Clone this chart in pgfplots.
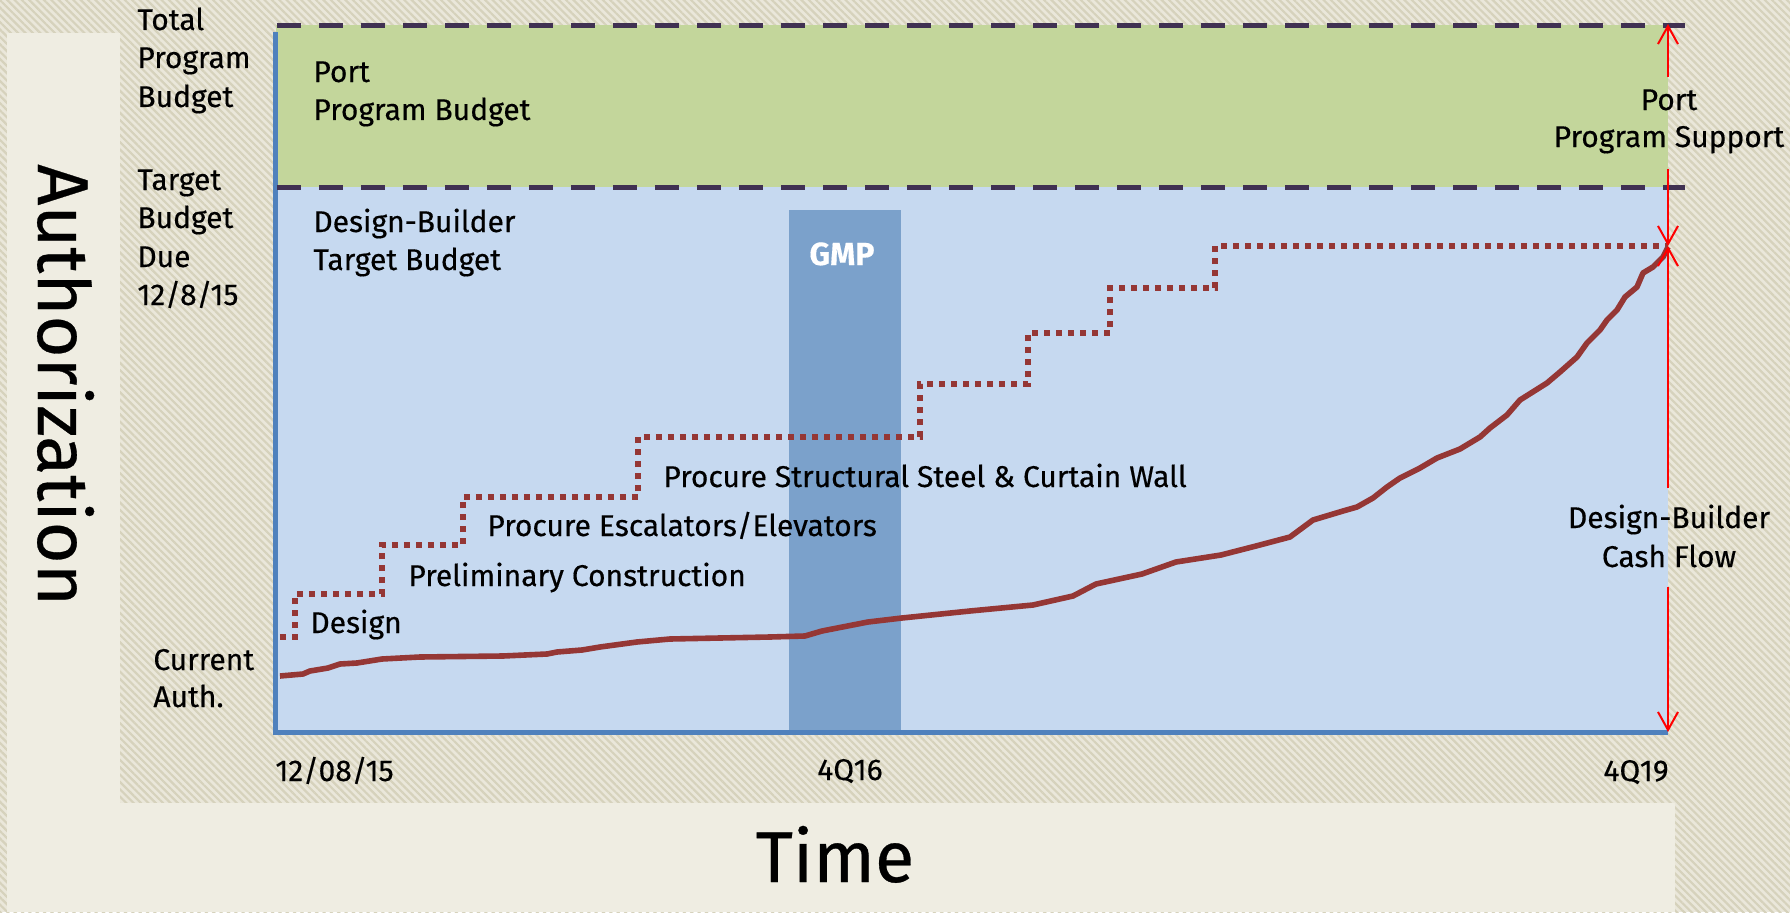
\documentclass[border=0pt]{standalone}
\usepackage{pgfplots}
\pgfplotsset{compat=1.18}
\usepackage{fontspec}
\setmainfont{Fira Sans}[FakeBold=0.4]
\usetikzlibrary{patterns.meta,arrows.meta}
\definecolor{bgbase}{HTML}{EAE7DA}
\definecolor{stripe}{HTML}{D6D2BC}
\definecolor{panel}{HTML}{EFEDE2}
\definecolor{greenfill}{HTML}{C3D69B}
\definecolor{bluefill}{HTML}{C6D9F0}
\definecolor{gmp}{HTML}{7BA1CB}
\definecolor{axisblue}{HTML}{4F81BD}
\definecolor{dashc}{HTML}{403152}
\definecolor{curvec}{HTML}{953735}
\begin{document}
\begin{tikzpicture}
\begin{axis}[
  scale only axis, width=696pt, height=354pt,
  xmin=0, xmax=1392, ymin=0, ymax=708,
  hide axis, clip=false]
% background texture and panels
\fill[bgbase] (axis cs:-276,-179) rectangle (axis cs:1514,733);
\fill[pattern={Lines[angle=-45,distance=2.6pt,line width=1.1pt]}, pattern color=stripe] (axis cs:-276,-179) rectangle (axis cs:1514,733);
\fill[panel] (axis cs:-269,-179) rectangle (axis cs:-156,700);
\fill[panel] (axis cs:-269,-179) rectangle (axis cs:1399,-70);
% regions
\fill[greenfill] (axis cs:0,546) rectangle (axis cs:1392,708);
\fill[bluefill] (axis cs:0,0) rectangle (axis cs:1392,546);
% GMP bar
\addplot[fill=gmp, draw=none] coordinates {(513,523) (625,523)} \closedcycle;
% axis lines
\addplot[axisblue, line width=2.5pt] coordinates {(0,701) (0,1) (1392,1)};
% dashed budget lines
\addplot[dashc, line width=2.5pt, dash pattern=on 12pt off 9pt] coordinates {(1,708) (1409,708)};
\addplot[dashc, line width=2.5pt, dash pattern=on 12pt off 9pt] coordinates {(1,546) (1409,546)};
% authorization steps
\addplot[curvec, line width=2.8pt, dash pattern=on 3pt off 3pt] coordinates {
(4,96) (19,96) (19,139) (106,139) (106,188) (187,188) (187,236) (362,236)
(362,296) (644,296) (644,349) (752,349) (752,400) (834,400) (834,445)
(939,445) (939,487) (1392,487)};
% cash flow curve
\addplot[curvec, line width=2.8pt, line join=round] coordinates {
(4,57) (27,59) (34,62) (52,65) (64,69) (81,70) (106,74) (144,76) (227,77)
(271,79) (281,81) (306,83) (324,86) (361,91) (394,94) (494,96) (529,97)
(546,102) (592,111) (626,115) (694,122) (757,128) (797,137) (820,149)
(866,159) (900,171) (945,178) (980,187) (1014,196) (1037,213) (1067,222)
(1081,226) (1097,235) (1111,246) (1124,255) (1144,265) (1161,275)
(1184,284) (1204,296) (1214,305) (1231,318) (1244,333) (1271,350)
(1284,361) (1301,376) (1311,390) (1324,403) (1331,413) (1341,423)
(1349,436) (1361,446) (1367,460) (1377,466) (1387,476) (1392,486)};
% red arrows
\addplot[red, line width=1pt, -{Straight Barb[length=9pt,width=10pt]}] coordinates {(1392,656) (1392,709)};
\addplot[red, line width=1pt, -{Straight Barb[length=9pt,width=10pt]}] coordinates {(1392,564) (1392,487)};
\addplot[red, line width=1pt, -{Straight Barb[length=9pt,width=10pt]}] coordinates {(1392,245) (1392,487)};
\addplot[red, line width=1pt, -{Straight Barb[length=9pt,width=10pt]}] coordinates {(1392,146) (1392,1)};
\coordinate (TL) at (axis cs:-276,733);
\end{axis}
\begin{scope}[shift={(TL)}, x=0.5pt, y=-0.5pt, every node/.style={inner sep=0pt}, font=\fontsize{15pt}{18pt}\selectfont]
% left labels
\node[anchor=base west] at (137,30) {Total};
\node[anchor=base west] at (137,68) {Program};
\node[anchor=base west] at (137,107) {Budget};
\node[anchor=base west] at (137,190) {Target};
\node[anchor=base west] at (137,228) {Budget};
\node[anchor=base west] at (137,267) {Due};
\node[anchor=base west] at (137,305) {12/8/15};
\node[anchor=base west] at (153,670) {Current};
\node[anchor=base west] at (153,707) {Auth.};
% inside labels
\node[anchor=base west] at (313,82) {Port};
\node[anchor=base west] at (313,120) {Program Budget};
\node[anchor=base west] at (313,232) {Design-Builder};
\node[anchor=base west] at (313,270) {Target Budget};
\node[anchor=base, text=white, font=\fontsize{16pt}{19pt}\selectfont\bfseries] at (842,265) {GMP};
\node[anchor=base west] at (310,633) {Design};
\node[anchor=base west] at (408,586) {Preliminary Construction};
\node[anchor=base west] at (487,536) {Procure Escalators/Elevators};
\node[anchor=base west] at (663,487) {Procure Structural Steel \& Curtain Wall};
% right labels
\node[anchor=base] at (1669,110) {Port};
\node[anchor=base] at (1669,147) {Program Support};
\node[anchor=base] at (1669,528) {Design-Builder};
\node[anchor=base] at (1669,567) {Cash Flow};
% tick labels
\node[anchor=base west] at (275,781) {12/08/15};
\node[anchor=base] at (850,780) {4Q16};
\node[anchor=base east] at (1669,781) {4Q19};
% axis titles
\node[anchor=base, font=\fontsize{36pt}{40pt}\selectfont] at (835,882) {Time};
\node[anchor=base, rotate=-90, font=\fontsize{36pt}{40pt}\selectfont] at (38,385) {Authorization};
\end{scope}
\pgfresetboundingbox
\path (TL) rectangle ++(895pt,-456pt);
\end{tikzpicture}
\end{document}
